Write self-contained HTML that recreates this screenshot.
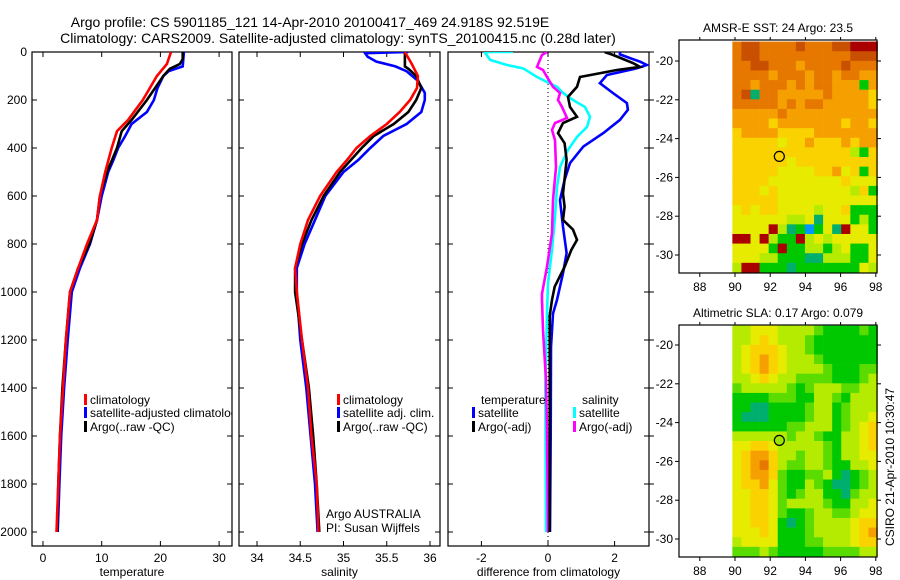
<!DOCTYPE html>
<html><head><meta charset="utf-8"><style>
body{margin:0;background:#fff;}
svg{display:block;font-family:"Liberation Sans",sans-serif;}
</style></head><body>
<svg id="fig" xmlns="http://www.w3.org/2000/svg" width="900" height="580" viewBox="0 0 900 580">
<text x="310" y="27" font-size="14" text-anchor="middle">Argo profile: CS 5901185_121 14-Apr-2010 20100417_469 24.918S 92.519E</text>
<text x="338" y="43" font-size="14" text-anchor="middle">Climatology: CARS2009. Satellite-adjusted climatology: synTS_20100415.nc (0.28d later)</text>
</svg>
<script>
// ---- data ----
const depthTicks=[0,200,400,600,800,1000,1200,1400,1600,1800,2000];
const tempTicks=[0,10,20,30];
const salTicks=[34,34.5,35,35.5,36];
const diffTicks=[-2,0,2];
const tempClimD=[0,50,100,200,283,330,400,500,600,700,800,900,1000,1200,1400,1600,1800,2000];
const tempClimV=[21.8,21.1,19.4,17,14.5,12.6,11.7,10.6,9.7,9.2,7.5,6.0,4.6,3.9,3.4,2.9,2.6,2.3];
const tempArgoD=[0,30,50,70,100,200,283,330,400,500,600,700,800,900,1000,1200,1400,1600,1800,2000];
const tempArgoV=[23.8,23.8,23.3,21.6,20.5,17.7,15.1,13.4,12.6,10.9,9.7,9.2,7.9,6.0,4.6,3.9,3.3,2.9,2.6,2.4];
const tempSatD=[0,60,80,100,150,200,250,300,350,400,450,500,600,700,800,900,1000,1200,1400,1600,1800,2000];
const tempSatV=[24,23.8,21.4,20.5,19.5,18.9,17.7,15.1,14,12.8,12,11.1,10,9.2,8,6.3,4.9,4.2,3.6,3.1,2.8,2.5];
const salClimD=[0,50,100,150,200,250,300,350,400,450,500,600,700,800,900,1000,1200,1400,1600,1800,2000];
const salClimV=[35.71,35.79,35.86,35.85,35.77,35.65,35.5,35.31,35.15,35.04,34.92,34.73,34.59,34.5,34.44,34.46,34.52,34.59,34.63,34.69,34.71];
const salArgoD=[0,60,70,100,150,200,250,300,350,400,500,600,700,800,900,1000,1200,1400,1600,1800,2000];
const salArgoV=[35.71,35.71,35.75,35.84,35.9,35.84,35.75,35.58,35.35,35.21,34.96,34.77,34.63,34.52,34.44,34.44,34.52,34.6,34.65,34.69,34.72];
const salSatD=[0,5,20,40,60,80,120,170,200,250,300,350,400,450,500,600,700,800,900,1000,1200,1400,1600,1800,2000];
const salSatV=[35.75,35.25,35.28,35.38,35.6,35.73,35.86,35.94,35.94,35.9,35.73,35.46,35.31,35.17,35.0,34.79,34.67,34.55,34.46,34.46,34.5,34.57,34.62,34.67,34.7];
const dTArgoD=[0,12,46,62,75,104,145,187,229,270,296,338,380,450,590,645,700,740,783,825,895,978,1033,1100,1300,1600,2000];
const dTArgoV=[1.7,1.95,2.55,2.76,2.07,0.96,0.87,0.6,0.66,0.87,0.45,0.3,0.5,0.56,0.45,0.5,0.45,0.75,0.87,0.7,0.5,0.2,0.12,0.05,0.05,0.05,0.05];
const dTSatD=[0,10,40,54,68,96,130,171,213,241,283,338,394,463,533,617,728,838,922,1033,1090,1229,1600,2000];
const dTSatV=[2.16,2.16,2.76,2.97,2.67,1.77,1.56,1.95,2.37,2.4,2.16,1.66,1.06,0.66,0.5,0.36,0.45,0.56,0.45,0.27,0.15,0.09,0.08,0.06];
const dSSatD=[0,0,33,54,68,104,145,171,200,229,270,312,354,408,479,563,687,825,963,1090,1400,2000];
const dSSatV=[-1.05,-1.9,-1.74,-1.23,-0.75,-0.33,0.27,0.45,0.75,1.11,1.26,1.17,0.87,0.6,0.36,0.27,0.21,0.12,0,-0.03,-0.08,-0.06];
const dSArgoD=[0,12,62,75,104,145,171,200,229,275,296,325,367,479,617,755,895,1007,1033,1158,1367,1575,2000];
const dSArgoV=[-0.03,-0.18,-0.33,-0.15,-0.03,0.15,0.36,0.3,0.42,0.57,0.21,0.12,0.21,0.24,0.15,0.12,-0.03,-0.18,-0.18,-0.15,-0.06,-0.03,0];
const latTicks=[-20,-22,-24,-26,-28,-30];
const lonTicks=[88,90,92,94,96,98];
const sstRows=[
"abbaaaabaaabbccc","abbaaaaaaaaaabbb","aabbaaa9aaaabaaa","aaaa9aaa9aa9aa99",
"aa9aaa9a9aa99949","ab3aa99999a99998","aaaaa9a9aa999998","99999a9999999999",
"9999899999998998","8999988889999999","8888878898889899","8888888888888648",
"8888887888888888","8888877778897848","8888777777778777","8887877777777684",
"8888877777777777","7878877776778444","7777776673777464","7777c6342473c774",
"cc7c644c67677777","77774c4466467447","7776644433666447","6cc4443444444476"];
const slaRows=[
"6677766665444454","6678766654444444","6788876654444444","6789876665444444",
"6789876666544455","6678766555544456","5666665456665566","4444555446654666",
"4433444456645666","4333444456645667","4444445566645678","6666665665446678",
"7788766666546678","7899866566546677","789a865566544667","7899854455643456",
"7889754465433456","7788754566443566","7788756666544667","7788754456655677",
"7788743456666788","7778744456666789","6777744455666788","5556544444555566"];
const palette={"0":"#00008c","1":"#0000ff","2":"#0096ff","3":"#00af6e","4":"#00c800","5":"#5adc00","6":"#b4eb00","7":"#e6eb00","8":"#fad200","9":"#f5a000","a":"#e67800","b":"#c85000","c":"#aa0000"};
const sstTitle="AMSR-E SST: 24 Argo: 23.5";
const slaTitle="Altimetric SLA: 0.17 Argo: 0.079";
const argoLon=92.519, argoLat=-24.918;

// ---- drawing ----
const svg=document.getElementById('fig');
const NS='http://www.w3.org/2000/svg';
function mk(tag,attrs,parent){const e=document.createElementNS(NS,tag);for(const k in attrs)e.setAttribute(k,attrs[k]);(parent||svg).appendChild(e);return e;}
const TOP=52,BOT=546;
const yD=d=>52+d*0.24;

function panel(name,x0,x1,xf,ticks,xlabel,leftLabels,rightTicks){
  const g=mk('g',{});
  
  
  const r=mk('rect',{x:x0,y:TOP,width:x1-x0,height:BOT-TOP,fill:'none',stroke:'#000','stroke-width':1.2},g);
  
  
  ticks.forEach(t=>{const x=xf(t);
    mk('line',{x1:x,x2:x,y1:BOT,y2:BOT-5,stroke:'#000'},g);
    mk('line',{x1:x,x2:x,y1:TOP,y2:TOP+5,stroke:'#000'},g);
    const tx=mk('text',{x:x,y:BOT+16,'font-size':12,'text-anchor':'middle'},g);tx.textContent=String(t);
    
    
  });
  depthTicks.forEach(d=>{const y=yD(d);
    mk('line',{x1:x0,x2:x0+5,y1:y,y2:y,stroke:'#000'},g);
    mk('line',{x1:x1,x2:x1-5,y1:y,y2:y,stroke:'#000'},g);
    if(rightTicks)mk('line',{x1:x1,x2:x1+5,y1:y,y2:y,stroke:'#000'},g);
    if(leftLabels){const tx=mk('text',{x:x0-5,y:y+4,'font-size':12,'text-anchor':'end'},g);tx.textContent=String(d);
      
      }
  });
  const xl=mk('text',{x:(x0+x1)/2,y:576,'font-size':12,'text-anchor':'middle'},g);xl.textContent=xlabel;
  
  
  const cp=mk('clipPath',{id:'clip-'+name},g);
  mk('rect',{x:x0,y:TOP,width:x1-x0,height:BOT-TOP},cp);
  return g;
}
function series(g,name,xf,D,V,color,clip){
  const pts=D.map((d,i)=>xf(V[i]).toFixed(1)+','+yD(d).toFixed(1)).join(' ');
  const p=mk('polyline',{points:pts,fill:'none',stroke:color,'stroke-width':2.6,'clip-path':'url(#clip-'+clip+')'},g);
  
  
}
function legend(g,x,y,color,label,name){
  if(color){mk('rect',{x:x,y:y-10,width:3,height:11,fill:color},g);}
  const t=mk('text',{x:x+6,y:y,'font-size':12},g);t.textContent=label;
  
  
  return t;
}
// panel 1
const xT=t=>43+t*5.87;
const g1=panel('temperature',32,232,xT,tempTicks,'temperature',true,false);
series(g1,'temp-satellite-line',xT,tempSatD,tempSatV,'#0000ff','temperature');
series(g1,'temp-argo-line',xT,tempArgoD,tempArgoV,'#000','temperature');
series(g1,'temp-climatology-line',xT,tempClimD,tempClimV,'#ff0000','temperature');
const lc=mk('svg',{x:32,y:380,width:200,height:60,overflow:'hidden'},g1);
legend(lc,52,24,'#ff0000','climatology','legend-climatology');
legend(lc,52,37,'#0000ff','satellite-adjusted climatology','legend-satellite-adjusted');
legend(lc,52,51,'#000','Argo(..raw -QC)','legend-argo');
// panel 2
const xS=s=>257+(s-34)*86.5;
const g2=panel('salinity',239,440,xS,salTicks,'salinity',false,false);
series(g2,'sal-satellite-line',xS,salSatD,salSatV,'#0000ff','salinity');
series(g2,'sal-argo-line',xS,salArgoD,salArgoV,'#000','salinity');
series(g2,'sal-climatology-line',xS,salClimD,salClimV,'#ff0000','salinity');
legend(g2,337,404,'#ff0000','climatology','legend-sal-climatology');
legend(g2,337,417,'#0000ff','satellite adj. clim.','legend-sal-satellite');
legend(g2,337,431,'#000','Argo(..raw -QC)','legend-sal-argo');
legend(g2,320,518,null,'Argo AUSTRALIA','argo-australia-label');
legend(g2,320,532,null,'PI: Susan Wijffels','pi-label');
// panel 3
const xDf=v=>548+v*33.3;
const g3=panel('difference',448,649,xDf,diffTicks,'difference from climatology',false,true);
const zl=mk('line',{x1:xDf(0),x2:xDf(0),y1:TOP,y2:BOT,stroke:'#000','stroke-dasharray':'1,3'},g3);


series(g3,'diff-sal-satellite-line',xDf,dSSatD,dSSatV,'#00ffff','difference');
series(g3,'diff-sal-argo-line',xDf,dSArgoD,dSArgoV,'#ff00ff','difference');
series(g3,'diff-temp-satellite-line',xDf,dTSatD,dTSatV,'#0000ff','difference');
series(g3,'diff-temp-argo-line',xDf,dTArgoD,dTArgoV,'#000','difference');
legend(g3,475,404,null,'temperature','legend-temperature-heading');
legend(g3,472,417,'#0000ff','satellite','legend-diff-temp-satellite');
legend(g3,472,431,'#000','Argo(-adj)','legend-diff-temp-argo');
legend(g3,576,404,null,'salinity','legend-salinity-heading');
legend(g3,573,417,'#00ffff','satellite','legend-diff-sal-satellite');
legend(g3,573,431,'#ff00ff','Argo(-adj)','legend-diff-sal-argo');

// maps
function map(name,top,bottom,yAt20,rows,title,markerFill){
  const X0=679,X1=877;
  const xL=lon=>735+(lon-90)*17.6;
  const yL=lat=>yAt20+(-20-lat)*19.4;
  const g=mk('g',{});
  
  
  const lon0=89.85,lon1=98.1,lat0=-19,lat1=-30.9;
  const nr=rows.length,nc=rows[0].length;
  const dl=(lon1-lon0)/nc,dt=(lat0-lat1)/nr;
  rows.forEach((row,i)=>{for(let j=0;j<nc;j++){
    const xa=xL(lon0+j*dl),xb=xL(lon0+(j+1)*dl),ya=yL(lat0-i*dt),yb=yL(lat0-(i+1)*dt);
    const c=mk('rect',{x:xa.toFixed(2),y:ya.toFixed(2),width:(xb-xa+0.3).toFixed(2),height:(yb-ya+0.3).toFixed(2),fill:palette[row[j]]},g);
    
    
  }});
  const fr=mk('rect',{x:X0,y:top,width:X1-X0,height:bottom-top,fill:'none',stroke:'#000','stroke-width':1.2},g);
  
  
  latTicks.forEach(l=>{const y=yL(l);
    mk('line',{x1:X0,x2:X0-4,y1:y,y2:y,stroke:'#000'},g);
    mk('line',{x1:X1,x2:X1+4,y1:y,y2:y,stroke:'#000'},g);
    const t=mk('text',{x:X0-6,y:y+4,'font-size':12,'text-anchor':'end'},g);t.textContent=String(l);
    
    
  });
  lonTicks.forEach(l=>{const x=xL(l);
    mk('line',{x1:x,x2:x,y1:bottom,y2:bottom+4,stroke:'#000'},g);
    mk('line',{x1:x,x2:x,y1:top,y2:top-3,stroke:'#000'},g);
    const t=mk('text',{x:x,y:bottom+18,'font-size':12,'text-anchor':'middle'},g);t.textContent=String(l);
    
    
  });
  const tt=mk('text',{x:(X0+X1)/2,y:top-8,'font-size':12,'text-anchor':'middle'},g);tt.textContent=title;
  
  
  const m=mk('circle',{cx:xL(argoLon),cy:yL(argoLat),r:5,fill:markerFill,stroke:'#000','stroke-width':1.2},g);
  
  
}
map('sst',40,273,61,sstRows,sstTitle,'none');
map('sla',325,557,345,slaRows,slaTitle,'#9be600');
const ct=mk('text',{x:0,y:0,'font-size':12,'text-anchor':'middle',transform:'translate(894,467) rotate(-90)'});
ct.textContent='CSIRO 21-Apr-2010 10:30:47';


</script>
</body></html>
